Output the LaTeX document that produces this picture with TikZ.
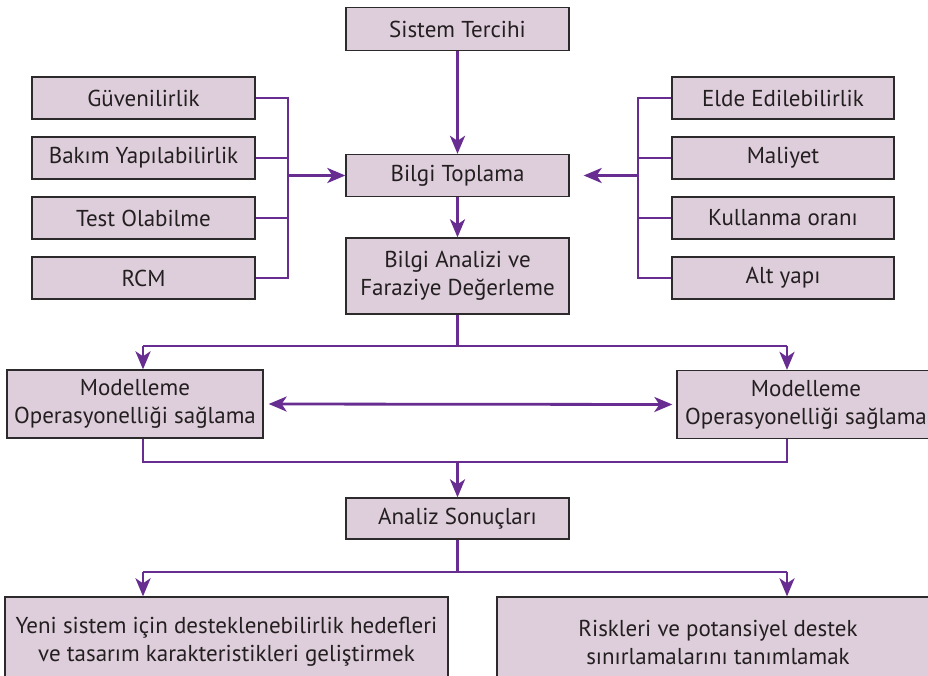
\documentclass[tikz,border=0pt]{standalone}
\usepackage{fontspec}
\setmainfont{PT Sans}
\usetikzlibrary{arrows.meta}
\definecolor{boxfill}{RGB}{222,206,219}
\definecolor{boxline}{RGB}{45,42,44}
\definecolor{flow}{RGB}{103,45,145}
\definecolor{ink}{RGB}{35,31,32}
\begin{document}
\begin{tikzpicture}[x=1pt,y=-1pt,
  box/.style={draw=boxline,line width=1.3pt,fill=boxfill,text=ink,
    inner sep=0pt,align=center,font=\fontsize{23}{28}\selectfont},
  small/.style={box,minimum width=223pt,minimum height=42pt},
  wire/.style={draw=flow,line width=2.8pt},
  arrow/.style={wire,-{Stealth[length=18pt,width=15pt,inset=5pt]}},
  both/.style={wire,{Stealth[length=18pt,width=15pt,inset=5pt]}-{Stealth[length=18pt,width=15pt,inset=5pt]}}]
\useasboundingbox (0,0) rectangle (928,676);
\clip (0,0) rectangle (928,676);

% central column
\node[small,minimum height=43pt] (sis) at (457.5,29) {Sistem Tercihi};
\node[small] (top) at (457.5,175.5) {Bilgi Toplama};
\node[small,minimum height=76pt] (ana) at (457.5,276) {Bilgi Analizi ve\\Faraziye Değerleme};
\node[small,minimum height=41pt] (res) at (457.5,518.5) {Analiz Sonuçları};

% left inputs
\node[small] (guv) at (143.5,98) {Güvenilirlik};
\node[small] (bak) at (143.5,158) {Bakım Yapılabilirlik};
\node[small] (tst) at (143.5,218) {Test Olabilme};
\node[small] (rcm) at (143.5,278) {RCM};

% right inputs
\node[small,minimum width=222pt] (eld) at (783,98) {Elde Edilebilirlik};
\node[small,minimum width=222pt] (mal) at (783,158) {Maliyet};
\node[small,minimum width=222pt] (kul) at (783,218) {Kullanma oranı};
\node[small,minimum width=222pt] (alt) at (783,278) {Alt yapı};

% modelling pair
\node[box,minimum width=256pt,minimum height=68pt] (modL) at (135,404)
  {Modelleme\\Operasyonelliği sağlama};
\node[box,minimum width=258pt,minimum height=68pt] (modR) at (806,404.5)
  {Modelleme\\Operasyonelliği sağlama};

% outcomes
\node[box,minimum width=443pt,minimum height=90pt] (goal) at (226.5,642)
  {Yeni sistem için desteklenebilirlik hedefleri\\ve tasarım karakteristikleri geliştirmek};
\node[box,minimum width=442pt,minimum height=90pt] (risk) at (718,642)
  {Riskleri ve potansiyel destek\\sınırlamalarını tanımlamak};

% bus lines and junctions
\coordinate (busL) at (288,0);
\coordinate (busR) at (638,0);
\coordinate (s1L) at (143,346);
\coordinate (s1R) at (787,346);
\coordinate (s2L) at (143,462);
\coordinate (s2R) at (787,462);
\coordinate (s3L) at (143,572);
\coordinate (s3R) at (787,572);

\draw[arrow] (sis.south) -- (top.north);

\draw[wire] (guv.east) -- (guv.east -| busL) -- (rcm.east -| busL) -- (rcm.east);
\draw[wire] (bak.east) -- (bak.east -| busL);
\draw[wire] (tst.east) -- (tst.east -| busL);
\draw[arrow] (top.west -| busL) -- (top.west);

\draw[wire] (eld.west) -- (eld.west -| busR) -- (alt.west -| busR) -- (alt.west);
\draw[wire] (mal.west) -- (mal.west -| busR);
\draw[wire] (kul.west) -- (kul.west -| busR);
\draw[arrow,shorten >=14pt] (top.east -| busR) -- (top.east);

\draw[arrow] (top.south) -- (ana.north);

\draw[wire] (ana.south) -- (ana.south |- s1L);
\draw[wire] (s1L) -- (s1R);
\draw[arrow] (s1L) -- (s1L |- modL.north);
\draw[arrow] (s1R) -- (s1R |- modR.north);

\draw[both,shorten <=5pt,shorten >=4pt] (modL.east) -- (modR.west);

\draw[wire] (modL.south -| s2L) -- (s2L) -- (s2R) -- (modR.south -| s2R);
\draw[arrow] (res.north |- s2L) -- (res.north);

\draw[wire] (res.south) -- (res.south |- s3L);
\draw[wire] (s3L) -- (s3R);
\draw[arrow] (s3L) -- (s3L |- goal.north);
\draw[arrow] (s3R) -- (s3R |- risk.north);
\end{tikzpicture}
\end{document}
